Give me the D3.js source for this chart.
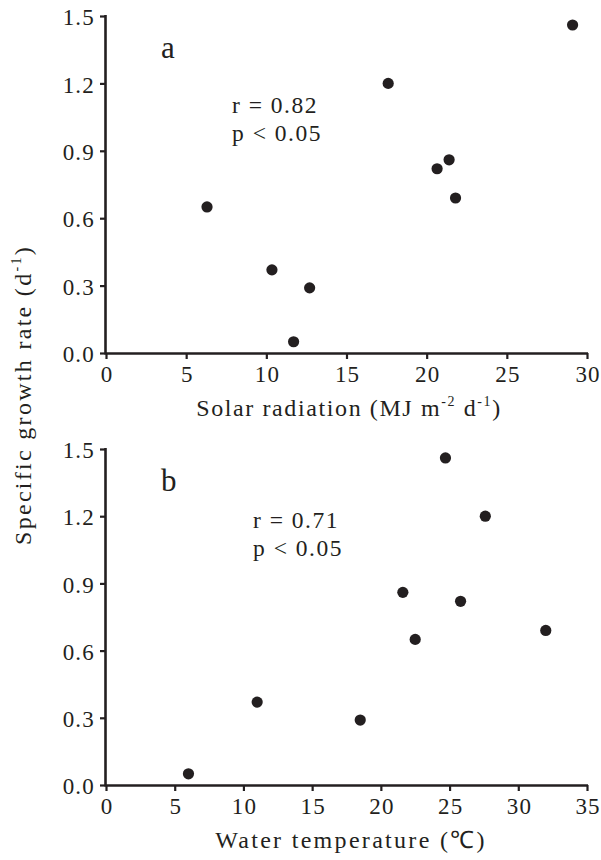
<!DOCTYPE html>
<html>
<head>
<meta charset="utf-8">
<script src="https://cdn.jsdelivr.net/npm/d3@7"></script>
<style>
html,body{margin:0;padding:0;background:#fff;}
svg{display:block;font-family:"Liberation Serif","Times New Roman",serif;}
</style>
</head>
<body>
<svg id="chart" width="601" height="860"></svg>
<script>
// Data
const growthRate = [0.65, 0.37, 0.05, 0.29, 1.20, 0.82, 0.86, 0.69, 1.46];
const solarRadiation = [6.3, 10.35, 11.7, 12.7, 17.6, 20.65, 21.4, 21.8, 29.1];
const growthRateB = [0.05, 0.37, 0.29, 0.86, 0.65, 1.46, 0.82, 1.20, 0.69];
const waterTemp = [6.0, 11.0, 18.5, 21.6, 22.5, 24.7, 25.8, 27.6, 32.0];
const yTicks = [0.0, 0.3, 0.6, 0.9, 1.2, 1.5];
const xTicksA = [0, 5, 10, 15, 20, 25, 30];
const xTicksB = [0, 5, 10, 15, 20, 25, 30, 35];
const statsA = ["r = 0.82", "p < 0.05"];
const statsB = ["r = 0.71", "p < 0.05"];

const ink = "#231f20";
const svg = d3.select("#chart");
const FONT = "'Liberation Serif', 'Times New Roman', serif";

function panel(cfg) {
  const g = svg.append("g");
  const x = d3.scaleLinear().domain(cfg.xDomain).range([106, 587]);
  const y = d3.scaleLinear().domain([0, 1.5]).range([cfg.bottom, cfg.top]);

  const xAxis = d3.axisBottom(x).tickValues(cfg.xTicks).tickSize(6).tickPadding(7)
    .tickFormat(d3.format("d"));
  const yAxis = d3.axisLeft(y).tickValues(yTicks).tickSize(6).tickPadding(5)
    .tickFormat(d3.format(".1f"));

  const gx = g.append("g").attr("transform", `translate(0,${cfg.bottom})`).call(xAxis);
  const gy = g.append("g").attr("transform", `translate(106,0)`).call(yAxis);
  [gx, gy].forEach(a => {
    a.attr("font-family", null).attr("font-size", null);
    a.select(".domain").attr("stroke", ink).attr("stroke-width", 2.6);
    a.selectAll(".tick line").attr("stroke", ink).attr("stroke-width", 2.2);
    a.selectAll(".tick text").attr("fill", ink)
      .style("font-family", FONT)
      .style("font-size", "23px").style("letter-spacing", "1.2px");
  });
  gx.selectAll(".tick text").attr("dx", "0.6px");
  gy.selectAll(".tick text").attr("dy", "0.38em");
  gx.select(".domain").attr("d", `M106,0.5H588`);
  gy.select(".domain").attr("d", `M-0.5,${cfg.bottom + 1.5}V${cfg.top - 1}`);

  g.selectAll("circle.pt").data(cfg.xs).enter().append("circle")
    .attr("class", "pt")
    .attr("cx", d => x(d))
    .attr("cy", (d, i) => y(cfg.ys[i]))
    .attr("r", 5.6)
    .attr("fill", ink);

  g.append("text").attr("x", 161).attr("y", cfg.top + 42)
    .attr("fill", ink).style("font-size", "31px").text(cfg.letter);

  cfg.stats.forEach((s, i) => {
    g.append("text").attr("x", cfg.statX).attr("y", cfg.statY + i * 28)
      .attr("fill", ink).style("font-size", "23.5px").style("letter-spacing", "1.5px")
      .text(s);
  });
  return g;
}

panel({xDomain:[0,30], xTicks:xTicksA, xs:solarRadiation, ys:growthRate,
  top:16, bottom:353, letter:"a", stats:statsA, statX:232, statY:113});
panel({xDomain:[0,35], xTicks:xTicksB, xs:waterTemp, ys:growthRateB,
  top:449, bottom:785, letter:"b", stats:statsB, statX:253, statY:528});

// x axis titles
const tA = svg.append("text").attr("x", 349).attr("y", 416).attr("text-anchor", "middle")
  .attr("fill", ink).style("font-size", "24px").style("letter-spacing", "1.6px");
tA.append("tspan").text("Solar radiation (MJ m");
tA.append("tspan").attr("dy", -10).style("font-size", "14px").text("-2");
tA.append("tspan").attr("dy", 10).text(" d");
tA.append("tspan").attr("dy", -10).style("font-size", "14px").text("-1");
tA.append("tspan").attr("dy", 10).text(")");

svg.append("text").attr("x", 351).attr("y", 848).attr("text-anchor", "middle")
  .attr("fill", ink).style("font-size", "24px").style("letter-spacing", "2.3px")
  .text("Water temperature (℃)");

// y axis title
const tY = svg.append("text").attr("transform", "translate(31,395) rotate(-90)")
  .attr("text-anchor", "middle").attr("fill", ink)
  .style("font-size", "24px").style("letter-spacing", "2.3px");
tY.append("tspan").text("Specific growth rate (d");
tY.append("tspan").attr("dy", -10).style("font-size", "14px").text("-1");
tY.append("tspan").attr("dy", 10).text(")");
</script>
</body>
</html>
